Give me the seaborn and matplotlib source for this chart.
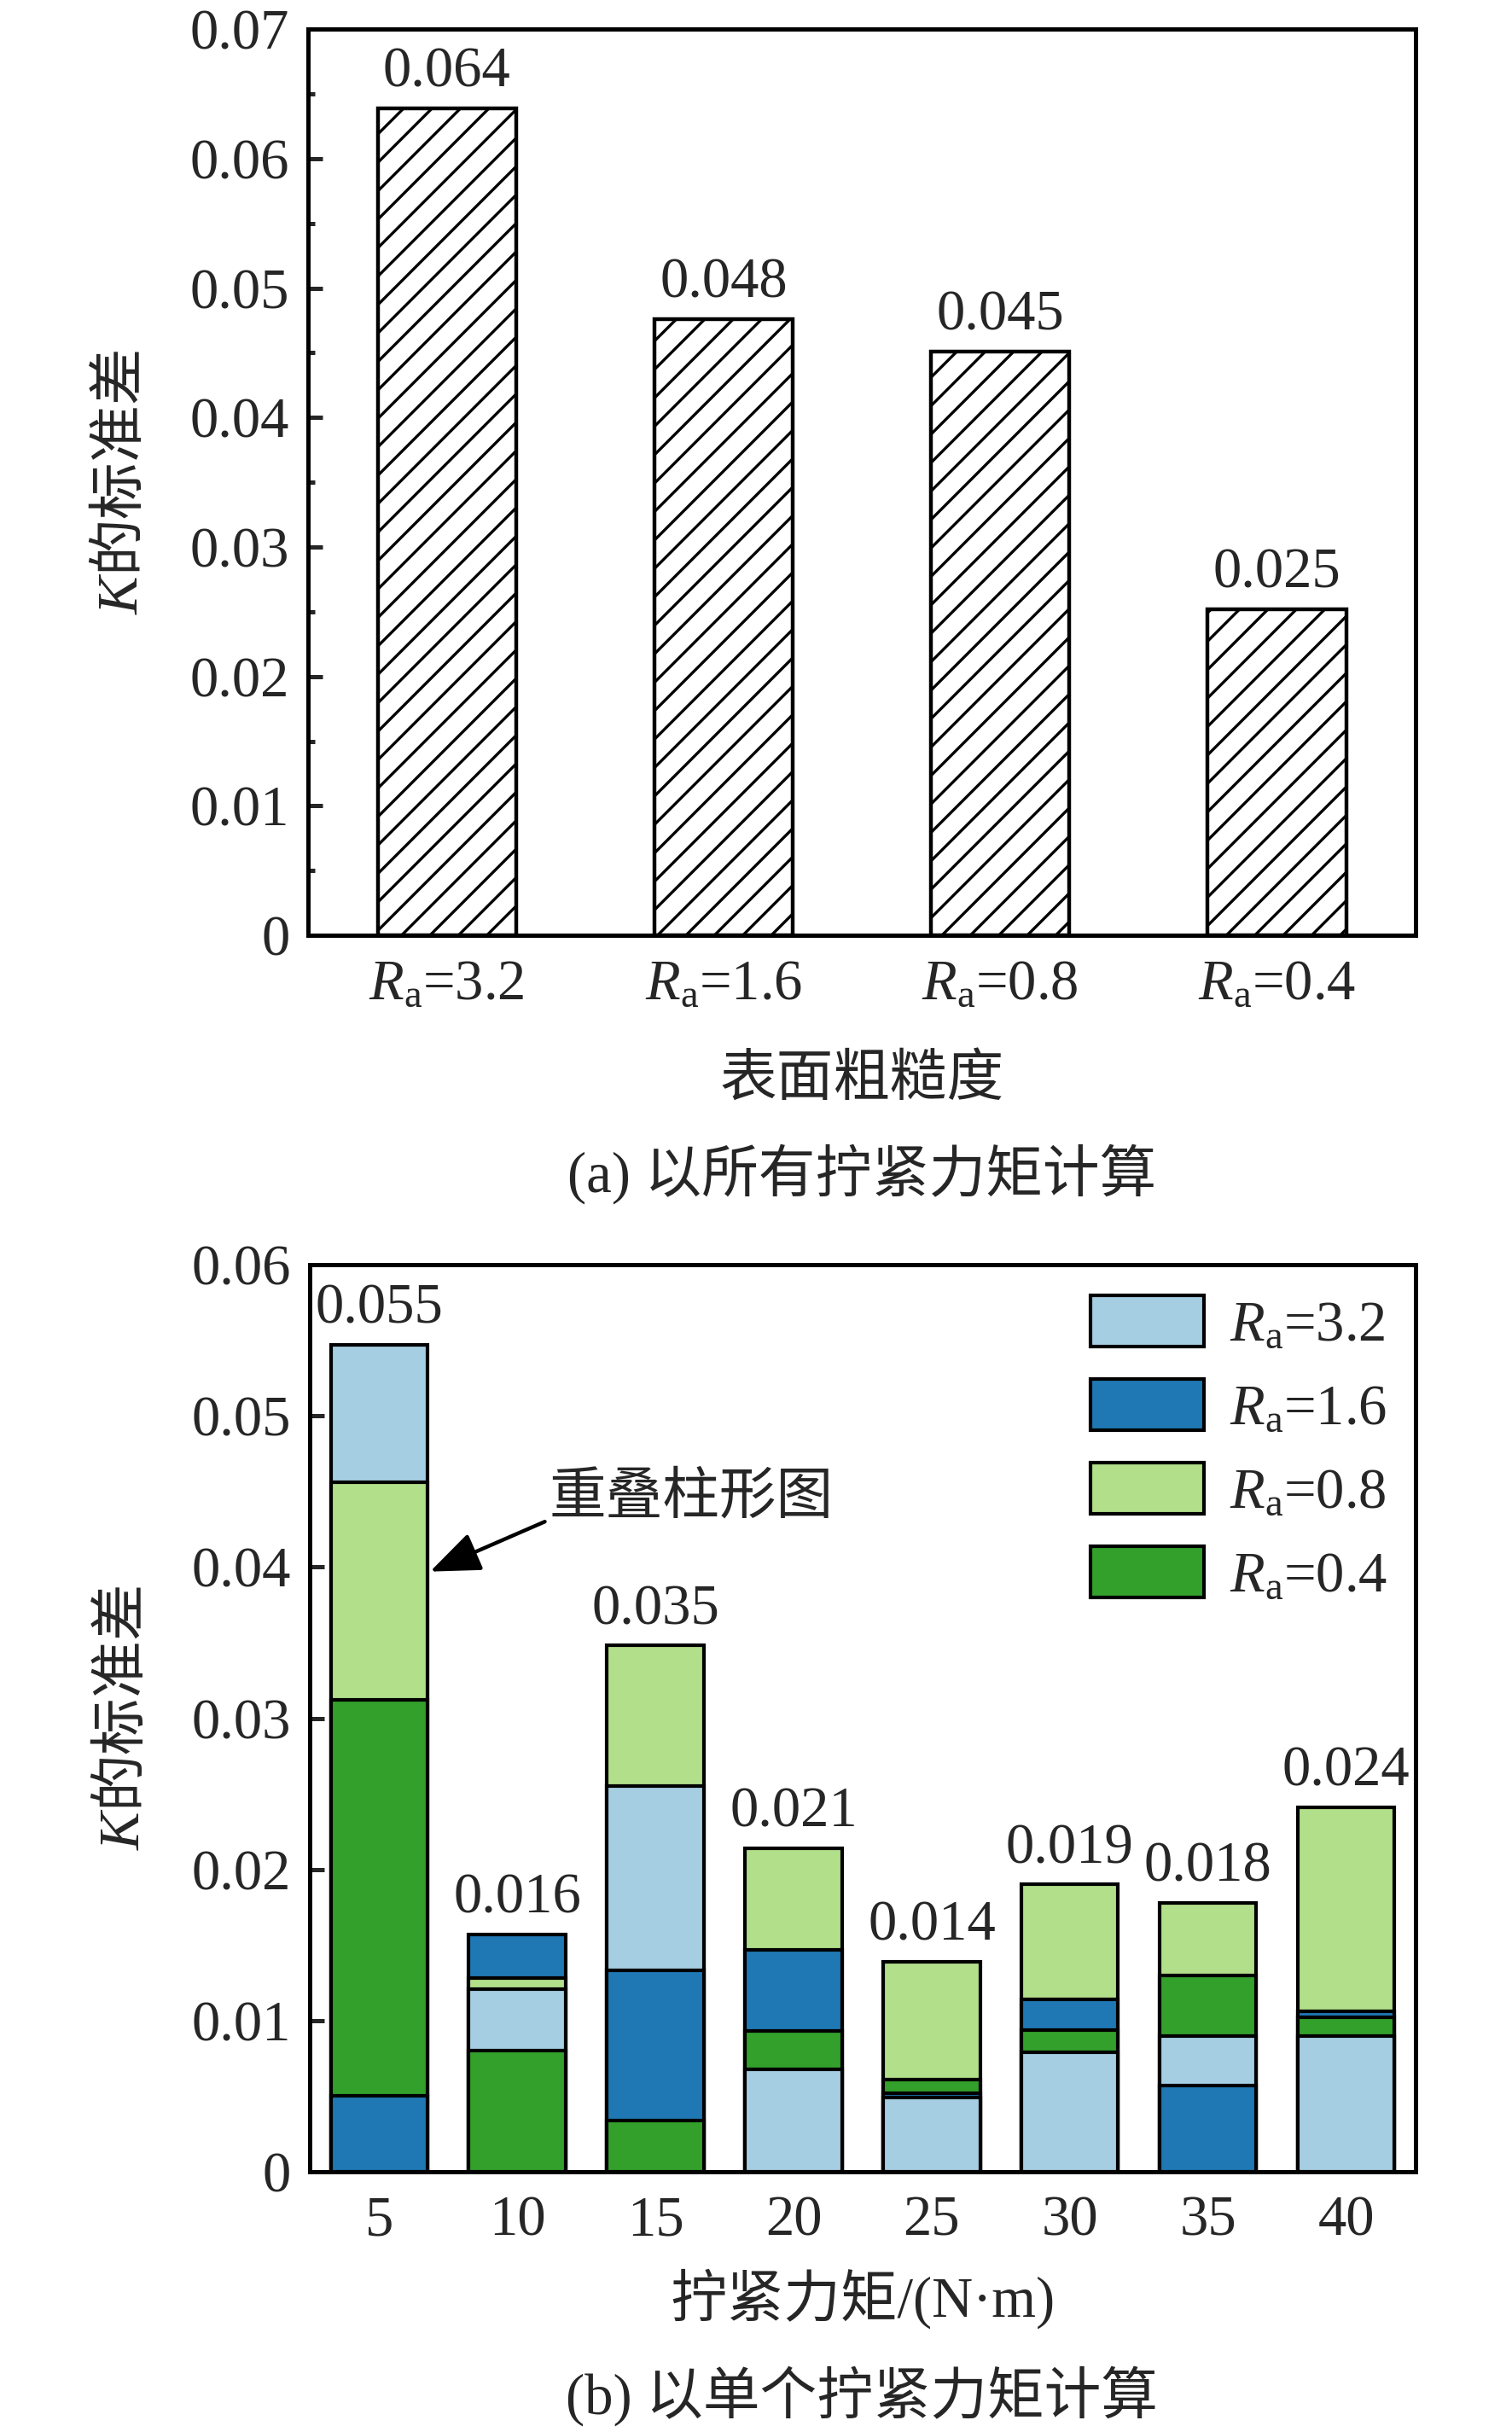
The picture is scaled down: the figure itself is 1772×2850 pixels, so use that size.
import numpy as np
import pandas as pd
import matplotlib.pyplot as plt
import seaborn as sns
from matplotlib.patches import Patch
from matplotlib.ticker import MultipleLocator

sns.set_style('ticks')
# 字体设置 (set_style 之后)
plt.rcParams['font.family'] = ['Liberation Serif', 'Noto Sans CJK SC']
plt.rcParams['mathtext.fontset'] = 'custom'
plt.rcParams['mathtext.rm'] = 'Liberation Serif'
plt.rcParams['mathtext.it'] = 'Liberation Serif:italic'
plt.rcParams['axes.unicode_minus'] = False
plt.rcParams['hatch.linewidth'] = 1.2
plt.rcParams['axes.linewidth'] = 1.8
plt.rcParams['axes.edgecolor'] = 'black'

FS = 24

# 数据
ra_values = ['3.2', '1.6', '0.8', '0.4']
ra_labels = [r'$\mathit{R}_\mathrm{a}$=' + r for r in ra_values]
std_all = [0.0639, 0.0476, 0.0451, 0.0252]

torques = [5, 10, 15, 20, 25, 30, 35, 40]
std_ra32 = [0.0547, 0.0121, 0.0255, 0.0068, 0.0049, 0.0079, 0.0090, 0.0090]
std_ra16 = [0.0050, 0.0157, 0.0133, 0.0147, 0.0052, 0.0114, 0.0057, 0.0106]
std_ra08 = [0.0456, 0.0128, 0.0348, 0.0214, 0.0139, 0.0190, 0.0178, 0.0241]
std_ra04 = [0.0312, 0.0080, 0.0034, 0.0093, 0.0061, 0.0094, 0.0130, 0.0102]

yticks_a = [0, 0.01, 0.02, 0.03, 0.04, 0.05, 0.06, 0.07]
yticks_b = [0, 0.01, 0.02, 0.03, 0.04, 0.05, 0.06]

colors = sns.color_palette('Paired')[:4]

df = pd.DataFrame({
    'torque': torques * 4,
    'ra': sum([[lab] * len(torques) for lab in ra_labels], []),
    'std': std_ra32 + std_ra16 + std_ra08 + std_ra04,
})

fig = plt.figure(figsize=(8.86, 14.25), dpi=200)

# (a) 以所有拧紧力矩计算
ax1 = fig.add_axes([0.204, 0.6154, 0.732, 0.3726])
sns.barplot(x=ra_labels, y=std_all, ax=ax1, color='white', saturation=1,
            edgecolor='black', linewidth=1.6, width=0.5, hatch='//')
for p in ax1.patches:
    p.set_facecolor('white')
for i, v in enumerate(std_all):
    ax1.annotate(f'{v:.3f}', (i, v), xytext=(0, 4), textcoords='offset points',
                 ha='center', va='bottom', fontsize=FS)
ax1.set_ylim(0, 0.07)
ax1.set_xlim(-0.5, 3.5)
ax1.set_yticks(yticks_a, ['0' if t == 0 else f'{t:.2f}' for t in yticks_a])
ax1.yaxis.set_minor_locator(MultipleLocator(0.005))
ax1.tick_params(axis='y', which='major', direction='in', length=6, width=1.8,
                labelsize=FS, pad=8)
ax1.tick_params(axis='y', which='minor', direction='in', length=3, width=1.8)
ax1.tick_params(axis='x', length=0, labelsize=FS, pad=10)
ax1.set_xlabel('表面粗糙度', fontsize=FS)
ax1.xaxis.set_label_coords(0.5, -0.161)
ax1.xaxis.label.set_va('center')
ax1.set_ylabel(r'$\mathit{K}$的标准差', fontsize=FS, family='Noto Sans CJK SC')
ax1.yaxis.set_label_coords(-0.143, 0.5)
for s in ax1.spines.values():
    s.set_visible(True)
    s.set_linewidth(1.8)
fig.text(0.570, 1 - 1376 / 2850, '(a) 以所有拧紧力矩计算', ha='center', va='center',
         fontsize=FS)

# (b) 以单个拧紧力矩计算 —— 重叠柱形图
ax2 = fig.add_axes([0.205, 0.107, 0.731, 0.373])
sns.barplot(data=df, x='torque', y='std', hue='ra', hue_order=ra_labels,
            order=torques, palette=colors, saturation=1, dodge=False,
            width=0.7, edgecolor='black', linewidth=1.5, ax=ax2)
# 高的柱子放在后面
for p in ax2.patches:
    p.set_zorder(2 + (0.06 - p.get_height()) * 100)
tops = df.groupby('torque')['std'].max().reindex(torques).values
for i, v in enumerate(tops):
    ax2.annotate(f'{v:.3f}', (i, v), xytext=(0, 4), textcoords='offset points',
                 ha='center', va='bottom', fontsize=FS, zorder=20)

ax2.annotate('', xy=(0.37, 0.0397), xytext=(1.20, 0.0430),
             arrowprops=dict(arrowstyle='-|>,head_length=0.45,head_width=0.18',
                             mutation_scale=40, lw=1.6, color='black',
                             shrinkA=0, shrinkB=0), zorder=20)
ax2.text(1.23, 0.0446, '重叠柱形图', ha='left', va='center', fontsize=FS,
         family=['Noto Sans CJK SC'], zorder=20)

handles = [Patch(facecolor=c, edgecolor='black', linewidth=1.5) for c in colors]
ax2.legend(handles, ra_labels, loc='upper left', bbox_to_anchor=(0.706, 0.966),
           frameon=False, fontsize=FS, handlelength=2.0, handleheight=1.0,
           labelspacing=0.47, handletextpad=0.45, borderpad=0, borderaxespad=0)

ax2.set_ylim(0, 0.06)
ax2.set_xlim(-0.5, 7.5)
ax2.set_yticks(yticks_b, ['0' if t == 0 else f'{t:.2f}' for t in yticks_b])
ax2.tick_params(axis='y', which='major', direction='in', length=6, width=1.8,
                labelsize=FS, pad=8)
ax2.tick_params(axis='x', length=0, labelsize=FS, pad=10)
ax2.set_xlabel('拧紧力矩/(N·m)', fontsize=FS)
ax2.xaxis.set_label_coords(0.5, -0.140)
ax2.xaxis.label.set_va('center')
ax2.set_ylabel(r'$\mathit{K}$的标准差', fontsize=FS, family='Noto Sans CJK SC')
ax2.yaxis.set_label_coords(-0.143, 0.5)
for s in ax2.spines.values():
    s.set_visible(True)
    s.set_linewidth(1.8)
fig.text(0.570, 1 - 2808 / 2850, '(b) 以单个拧紧力矩计算', ha='center', va='center',
         fontsize=FS)

fig.savefig('out.png', dpi=200)
plt.close(fig)
